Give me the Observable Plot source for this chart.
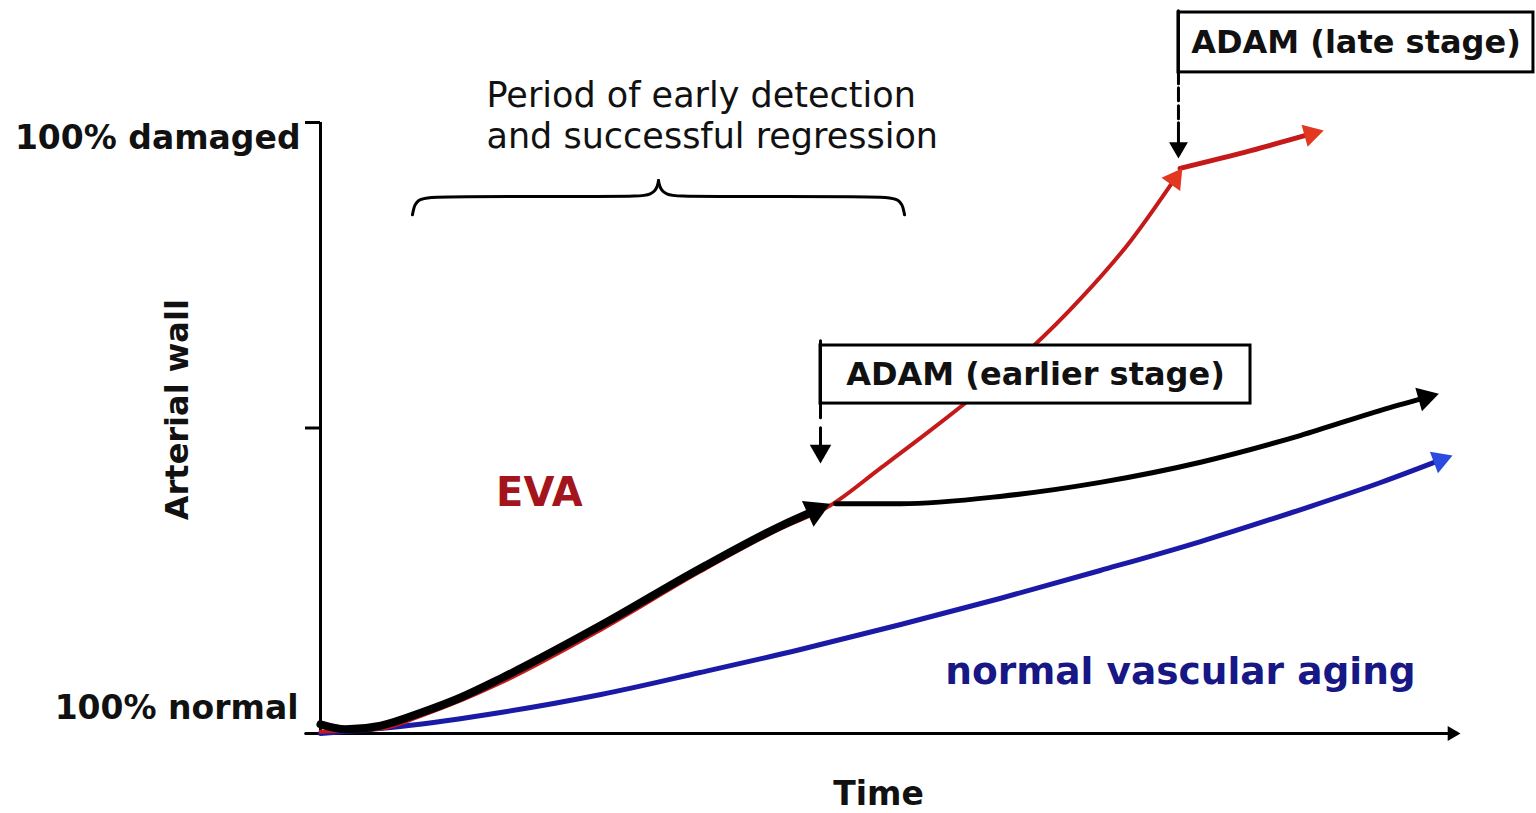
<!DOCTYPE html>
<html><head><meta charset="utf-8">
<script src="https://cdn.jsdelivr.net/npm/d3@7"></script>
<script src="https://cdn.jsdelivr.net/npm/@observablehq/plot@0.6"></script>
<style>html,body{margin:0;padding:0;background:#fff;overflow:hidden}</style>
</head><body><div id="chart"></div>
<script>
// ---- data (x = time, y = % arterial wall damage) ----
const evaRed = [[0,0.3],[5.3,0.8],[8.8,2.9],[12.3,5.4],[15.8,8.3],[24.6,17.0],[33.3,26.5],[40.4,33.6],[44.7,37.3],[49.1,43.4],[53.5,49.6],[57.9,56.1],[62.3,63.0],[66.7,71.2],[71.1,80.7],[75.6,92.5]];
const evaLate = [[75.4,92.5],[81.6,95.4],[88.0,98.7]];
const evaBlack = [[0,1.5],[2.2,0.7],[5.3,1.3],[8.8,3.4],[12.3,5.9],[15.8,9.0],[24.6,17.7],[33.3,27.0],[40.4,34.0],[44.7,37.6]];
const adamEarly = [[45.2,37.6],[50.9,37.6],[59.6,38.8],[68.4,41.1],[77.2,44.4],[86.0,48.8],[93.0,52.9],[98.1,55.6]];
const normalAging = [[0,0],[7.0,1.15],[15.8,3.44],[24.6,6.38],[33.3,9.98],[42.1,13.75],[50.9,17.84],[59.6,22.1],[68.4,26.68],[77.2,31.42],[86.0,36.66],[93.0,41.08],[99.3,45.5]];
const yTicks = [50, 100];
const labelTop = ["100% damaged"];
const labelBottom = ["100% normal"];
const braceLeft = [[8.07,84.9],[8.33,87.7],[10.53,87.9],[26.32,87.9],[29.39,87.9],[29.65,90.5]];
const braceRight = [[29.65,90.5],[29.91,87.9],[32.98,87.9],[48.77,87.9],[50.96,87.7],[51.23,84.9]];
const boxes = [
  {x1: 43.86, x2: 81.58, y1: 54.0, y2: 63.5, text: "ADAM (earlier stage)"},
  {x1: 75.26, x2: 106.4, y1: 108.2, y2: 118.0, text: "ADAM (late stage)"}
];
const dashEarly = [[43.86,64.3],[43.86,44.2]];
const dashLate = [[75.26,118.3],[75.26,94.1]];
const xAxisPts = [[-1.3,0],[100,0]];

// ---- scales ----
const X = Plot.scale({x: {domain: [0, 100], range: [320, 1460]}});
const Y = Plot.scale({y: {domain: [0, 100], range: [733, 122]}});
function arrowed(pts, r) {
  const n = pts.length, a = pts[n - 2], b = pts[n - 1];
  const ax = X.apply(a[0]), ay = Y.apply(a[1]), bx = X.apply(b[0]), by = Y.apply(b[1]);
  const dx = bx - ax, dy = by - ay, L = Math.hypot(dx, dy), k = 1.555 * r;
  const c = [X.invert(bx - dx / L * k), Y.invert(by - dy / L * k)];
  return {line: [...pts.slice(0, -1), c], head: [{x: c[0], y: c[1], rotate: Math.atan2(dx, -dy) * 180 / Math.PI}]};
}
const RED = "#c41a1a", REDH = "#e2381f", BLUE = "#1a1aa6", BLUEH = "#2a4ae0";
const aBlue = arrowed(normalAging, 8.5);
const aRed = arrowed(evaRed, 8.5);
const aRedLate = arrowed(evaLate, 8.5);
const aBlack = arrowed(evaBlack, 10.5);
const aBlackLate = arrowed(adamEarly, 9);
const aAxis = arrowed(xAxisPts, 5.5);
const aDashE = arrowed(dashEarly, 8);
const aDashL = arrowed(dashLate, 7);

const ln = (pts, o) => Plot.line(pts, {x: d => d[0], y: d => d[1], ...o});
const hd = (h, r, fill) => Plot.dot(h.head, {x: "x", y: "y", rotate: "rotate", symbol: "triangle", r, fill, stroke: "none"});
const F = "DejaVu Sans";
const C = "monotone-x";

const chart = Plot.plot({
  width: 1536, height: 813,
  marginLeft: 320, marginRight: 76, marginTop: 122, marginBottom: 80,
  x: {domain: [0, 100], axis: null},
  y: {domain: [0, 100]},
  style: {background: "white", fontFamily: F, overflow: "visible"},
  marks: [
    Plot.axisY({ticks: yTicks, tickSize: 15, tickFormat: () => "", strokeWidth: 3, label: null}),
    Plot.ruleX([0], {y1: 0, y2: 100, strokeWidth: 3, stroke: "black"}),
    ln(aAxis.line, {stroke: "black", strokeWidth: 3}),
    hd(aAxis, 5.5, "black"),
    ln(aBlue.line, {stroke: BLUE, strokeWidth: 5, curve: C}),
    hd(aBlue, 8.5, BLUEH),
    ln(aRed.line, {stroke: RED, strokeWidth: 4, curve: C}),
    ln(aBlack.line, {stroke: "black", strokeWidth: 8, curve: C}),
    hd(aBlack, 10.5, "black"),
    ln(aBlackLate.line, {stroke: "black", strokeWidth: 5, curve: C}),
    hd(aBlackLate, 9, "black"),
    ln(aRedLate.line, {stroke: RED, strokeWidth: 5, curve: C}),
    hd(aRed, 8.5, REDH),
    hd(aRedLate, 8.5, REDH),
    ln(braceLeft, {stroke: "black", strokeWidth: 3, curve: "basis"}),
    ln(braceRight, {stroke: "black", strokeWidth: 3, curve: "basis"}),
    Plot.rect(boxes, {x1: "x1", x2: "x2", y1: "y1", y2: "y2", fill: "white", stroke: "black", strokeWidth: 3}),
    Plot.text(boxes, {x: d => (d.x1 + d.x2) / 2, y: d => (d.y1 + d.y2) / 2, text: "text", fontSize: 32, fontWeight: "bold", fontFamily: F, fill: "#111"}),
    ln(aDashE.line, {stroke: "black", strokeWidth: 3, strokeDasharray: "77,10,30"}),
    hd(aDashE, 8, "black"),
    ln(aDashL.line, {stroke: "black", strokeWidth: 3, strokeDasharray: "73,4,13,5,13,4,30"}),
    hd(aDashL, 7, "black"),
    Plot.text(labelTop, {x: () => 0, y: () => 100, text: d => d, textAnchor: "end", dx: -20, dy: 16, fontSize: 33, fontWeight: "bold", fontFamily: F, fill: "#111"}),
    Plot.text(labelBottom, {x: () => 0, y: () => 0, text: d => d, textAnchor: "end", dx: -22, dy: -25, fontSize: 33, fontWeight: "bold", fontFamily: F, fill: "#111"}),
    Plot.text(["Arterial wall"], {x: () => -12.5, y: () => 53, text: d => d, rotate: -90, fontSize: 32, fontWeight: "bold", fontFamily: F, fill: "#111"}),
    Plot.text(["Time"], {x: () => 48.95, y: () => -10, text: d => d, fontSize: 33, fontWeight: "bold", fontFamily: F, fill: "#111"}),
    Plot.text(["EVA"], {x: () => 19.2, y: () => 39.3, text: d => d, fontSize: 40, fontWeight: "bold", fontFamily: F, fill: "#a3141c"}),
    Plot.text(["normal vascular aging"], {x: () => 54.8, y: () => 10.0, text: d => d, textAnchor: "start", fontSize: 37.5, fontWeight: "bold", fontFamily: F, fill: "#171786"}),
    Plot.text(["Period of early detection\nand successful regression"], {x: () => 14.56, y: () => 101.3, text: d => d, textAnchor: "start", lineHeight: 1.17, fontSize: 35, fontFamily: F, fill: "#111"})
  ]
});
document.getElementById("chart").append(chart);
</script></body></html>
